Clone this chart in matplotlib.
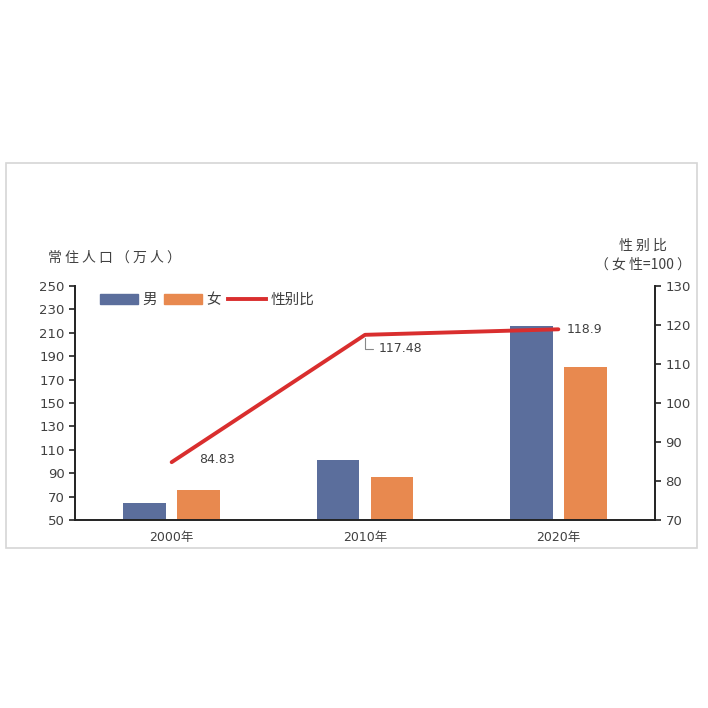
import numpy as np
import matplotlib.pyplot as plt
from matplotlib.patches import Rectangle, Patch
from matplotlib.lines import Line2D

plt.rcParams['font.family'] = ['DejaVu Sans', 'Noto Sans CJK SC']

# ==== Data ====
years = ["2000年", "2010年", "2020年"]
male = [64.5, 101.3, 215.8]
female = [75.6, 86.8, 180.8]
sex_ratio = [84.83, 117.48, 118.9]
ratio_labels = ["84.83", "117.48", "118.9"]

c_male = "#5b6e9c"
c_female = "#e8894f"
c_ratio = "#d92e2e"
c_text = "#404040"
cjk = ['Noto Sans CJK SC', 'DejaVu Sans']

fig = plt.figure(figsize=(7.08, 7.08), dpi=100)

# light gray frame
fig.patches.append(Rectangle((6 / 708, 1 - 548 / 708), 691 / 708, 385 / 708,
                             transform=fig.transFigure, fill=False,
                             edgecolor="#d6d6d6", linewidth=1.2))

ax = fig.add_axes([75 / 708, 1 - 520 / 708, 580 / 708, 234 / 708])
x = np.arange(len(years))
w = 0.22
ax.bar(x - 0.14, male, w, color=c_male)
ax.bar(x + 0.14, female, w, color=c_female)
ax.set_ylim(50, 250)
ax.set_xlim(-0.5, 2.5)
ax.set_yticks(np.arange(50, 251, 20))
ax.set_xticks(x)
ax.set_xticklabels(years, fontsize=9, color=c_text)
ax.tick_params(axis='x', length=0, pad=8)
ax.tick_params(axis='y', length=4, width=1.2, labelsize=9.5, colors=c_text)
ax.tick_params(axis='y', color="#222222")
for s in ["top", "right"]:
    ax.spines[s].set_visible(False)
for s in ["left", "bottom"]:
    ax.spines[s].set_linewidth(1.4)
    ax.spines[s].set_color("#222222")

ax2 = ax.twinx()
ax2.plot(x, sex_ratio, color=c_ratio, linewidth=2.8, solid_capstyle='round')
ax2.set_ylim(70, 130)
ax2.set_yticks(np.arange(70, 131, 10))
ax2.tick_params(axis='y', length=4, width=1.2, labelsize=9.5, colors=c_text)
ax2.tick_params(axis='y', color="#222222")
for s in ["top", "left", "bottom"]:
    ax2.spines[s].set_visible(False)
ax2.spines["right"].set_linewidth(1.4)
ax2.spines["right"].set_color("#222222")

# data labels
ax2.annotate(ratio_labels[0], (x[0], sex_ratio[0]), xytext=(33, 2),
             textcoords='offset points', ha='center', va='center',
             fontsize=9, color=c_text)
ax2.annotate(ratio_labels[1], (x[1], sex_ratio[1]), xytext=(10, -10),
             textcoords='offset points', ha='left', va='center',
             fontsize=9, color=c_text,
             arrowprops=dict(arrowstyle='-', color='#888888', lw=0.8,
                             shrinkA=2, shrinkB=2,
                             connectionstyle='angle,angleA=0,angleB=90,rad=0',
                             relpos=(0, 0.5)))
ax2.annotate(ratio_labels[2], (x[2], sex_ratio[2]), xytext=(19, 0),
             textcoords='offset points', ha='center', va='center',
             fontsize=9, color=c_text)

# axis titles
fig.text(48 / 708, 1 - 258 / 708, "常 住 人 口 （ 万 人 ）", fontsize=10,
         color=c_text, ha='left', va='center', family=cjk)
fig.text(643 / 708, 1 - 246 / 708, "性 别 比", fontsize=10,
         color=c_text, ha='center', va='center', family=cjk)
fig.text(643 / 708, 1 - 265 / 708, "（ 女 性=100 ）", fontsize=10,
         color=c_text, ha='center', va='center', family=cjk)

handles = [Patch(color=c_male, label="男"),
           Patch(color=c_female, label="女"),
           Line2D([0], [0], color=c_ratio, lw=2.8, label="性别比")]
ax.legend(handles=handles, loc='upper left', bbox_to_anchor=(0.02, 1.03),
          ncol=3, frameon=False, fontsize=10.5, handlelength=2.6,
          handleheight=0.6, columnspacing=0.5, handletextpad=0.3,
          labelcolor=c_text)

fig.savefig("out.png", dpi=100)
